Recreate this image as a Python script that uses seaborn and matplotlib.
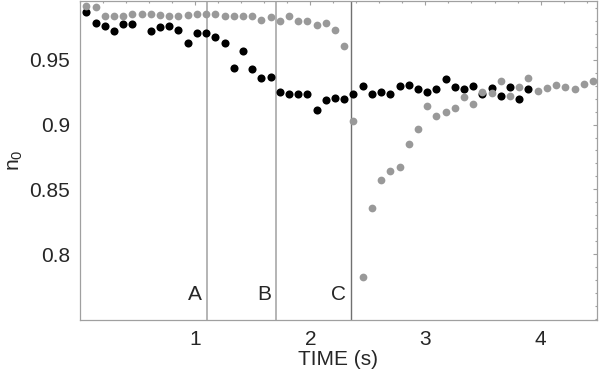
import numpy as np
import seaborn as sns
import matplotlib.pyplot as plt
from matplotlib.ticker import MultipleLocator, FixedLocator, FuncFormatter

# sample times (s)
time = [0.055, 0.135, 0.215, 0.295, 0.375, 0.455, 0.535, 0.615, 0.695, 0.775,
        0.855, 0.935, 1.015, 1.095, 1.175, 1.255, 1.335, 1.415, 1.495, 1.575,
        1.655, 1.735, 1.815, 1.895, 1.975, 2.055, 2.135, 2.215, 2.295, 2.375,
        2.455, 2.535, 2.615, 2.695, 2.775, 2.855, 2.935, 3.015, 3.095, 3.175,
        3.255, 3.335, 3.415, 3.495, 3.575, 3.655, 3.735, 3.815, 3.895, 3.975,
        4.055, 4.135, 4.215, 4.295, 4.375, 4.455]

# grey series (all 56 samples)
n0_grey = [0.9912, 0.9905, 0.9841, 0.9838, 0.9841, 0.9854, 0.9854, 0.9854, 0.9848, 0.9835,
           0.9838, 0.9843, 0.9851, 0.9854, 0.9856, 0.9841, 0.9841, 0.9841, 0.9840, 0.9810,
           0.9828, 0.9800, 0.9838, 0.9800, 0.9802, 0.9769, 0.9782, 0.9728, 0.9608, 0.9025,
           0.7820, 0.8358, 0.8574, 0.8643, 0.8669, 0.8848, 0.8966, 0.9143, 0.9066, 0.9097,
           0.9131, 0.9215, 0.9158, 0.9254, 0.9246, 0.9333, 0.9223, 0.9289, 0.9356, 0.9258,
           0.9285, 0.9302, 0.9289, 0.9272, 0.9312, 0.9335]

# black series (first 49 samples, one missing)
n0_black = [0.9872, 0.9782, 0.9759, 0.9718, 0.9777, 0.9772, np.nan, 0.9718, 0.9756, 0.9759,
            0.9728, 0.9631, 0.9705, 0.9705, 0.9674, 0.9628, 0.9435, 0.9564, 0.9432, 0.9357,
            0.9369, 0.9251, 0.9233, 0.9238, 0.9238, 0.9110, 0.9189, 0.9205, 0.9197, 0.9233,
            0.9300, 0.9235, 0.9251, 0.9238, 0.9300, 0.9308, 0.9277, 0.9251, 0.9277, 0.9351,
            0.9289, 0.9277, 0.9295, 0.9233, 0.9282, 0.9220, 0.9289, 0.9197, 0.9272]

x_ticks = [1, 2, 3, 4]
y_ticks = [0.8, 0.85, 0.9, 0.95]

# event markers
event_t = [1.10, 1.70, 2.35]
event_lbl = ['A', 'B', 'C']
event_col = ['#b4b4b4', '#b4b4b4', '#707070']
event_lw = [1.4, 1.4, 1.0]

sns.set_style('white')
plt.rcParams['font.family'] = ['Liberation Sans', 'DejaVu Sans']
plt.rcParams['mathtext.default'] = 'regular'

fig = plt.figure(figsize=(6, 3.71), dpi=100)
ax = fig.add_axes([80 / 600, 1 - 320 / 371, 517 / 600, 319.5 / 371])

for t, lbl, c, lw in zip(event_t, event_lbl, event_col, event_lw):
    ax.axvline(t, color=c, lw=lw, zorder=1)
    ax.text(t - 0.04, 0.7648, lbl, ha='right', va='baseline', fontsize=15)

sns.scatterplot(ax=ax, x=time[:len(n0_black)], y=n0_black, color='black',
                s=34, linewidth=0, zorder=2)
sns.scatterplot(ax=ax, x=time, y=n0_grey, color='#999999',
                s=31, linewidth=0, zorder=3)

ax.set_xlim(0, 4.49)
ax.set_ylim(0.7492, 0.9957)
ax.xaxis.set_major_locator(FixedLocator(x_ticks))
ax.xaxis.set_minor_locator(MultipleLocator(0.2))
ax.yaxis.set_major_locator(FixedLocator(y_ticks))
ax.yaxis.set_minor_locator(MultipleLocator(0.01))
ax.yaxis.set_major_formatter(FuncFormatter(lambda v, p: '%g' % round(v, 3)))

ax.tick_params(which='both', direction='in', top=True, right=True,
               color='#a0a0a0', width=0.8, labelsize=15, pad=7)
ax.tick_params(which='major', length=3)
ax.tick_params(which='minor', length=1.6)
for sp in ax.spines.values():
    sp.set_color('#a0a0a0')
    sp.set_linewidth(0.9)

ax.set_xlabel('TIME (s)', fontsize=15, labelpad=1)
ax.set_ylabel('$n_0$', fontsize=15, labelpad=3)

plt.savefig('out.png', dpi=100)
